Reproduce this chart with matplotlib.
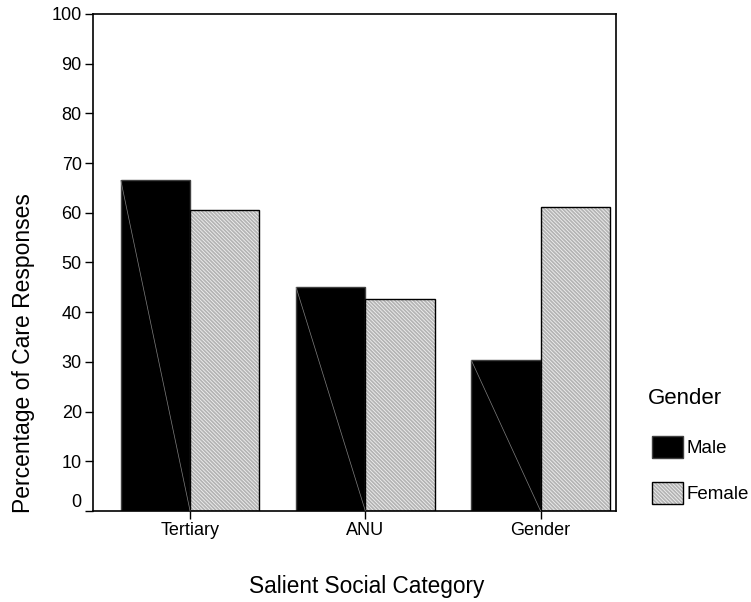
import matplotlib
matplotlib.use("Agg")
import matplotlib.pyplot as plt
import numpy as np
from matplotlib.patches import Patch
from matplotlib.legend_handler import HandlerTuple
from matplotlib.transforms import ScaledTranslation

categories = ["Tertiary", "ANU", "Gender"]
male = [66.5, 45.0, 30.3]
female = [60.6, 42.7, 61.2]
series_labels = ["Male", "Female"]
yticks = [0, 10, 20, 30, 40, 50, 60, 70, 80, 90, 100]

plt.rcParams['font.family'] = ['Liberation Sans', 'DejaVu Sans']
plt.rcParams['hatch.linewidth'] = 0.6

W, H = 751, 602
fig = plt.figure(figsize=(7.51, 6.02), dpi=100)
ax = fig.add_axes([0.1238, 0.1512, 0.6964, 0.8256])

x = np.arange(len(categories))
w = 0.395
grey = '#b4b4b4'
hatch = '\\' * 9

mbars = ax.bar(x - w / 2, male, w, color='black', edgecolor='#404040', linewidth=1.0, zorder=2)
fbars = ax.bar(x + w / 2, female, w, color=grey, edgecolor='#f0f0f0', hatch=hatch, linewidth=0, zorder=2)
ax.bar(x + w / 2, female, w, fill=False, edgecolor='black', linewidth=1.0, zorder=3)

# thin diagonal artifact line in male bars
for b in mbars:
    x0 = b.get_x()
    ax.plot([x0, x0 + b.get_width()], [b.get_height(), 0], color='#808080', lw=0.5, zorder=3)

ax.set_xlim(-0.554, 2.43)
ax.set_ylim(0, 100)
ax.set_yticks(yticks)
ax.set_yticklabels([str(t) for t in yticks], fontsize=13)
ax.set_xticks(x)
ax.set_xticklabels(categories, fontsize=13)
ax.tick_params(axis='both', direction='out', length=6, width=1, color='black', pad=2)
for s in ax.spines.values():
    s.set_linewidth(1.2)

# SPSS-style raised zero label
lbl0 = ax.get_yticklabels()[0]
lbl0.set_transform(lbl0.get_transform() + ScaledTranslation(0, 10 / 100, fig.dpi_scale_trans))

ax.set_ylabel("Percentage of Care Responses", fontsize=16.5, va='center')
ax.yaxis.set_label_coords(24 / W, 1 - 353 / H, transform=fig.transFigure)
ax.set_xlabel("Salient Social Category", fontsize=16.3, va='center')
ax.xaxis.set_label_coords(367 / W, 1 - 587 / H, transform=fig.transFigure)

fig.text(648 / W, 1 - 398 / H, "Gender", fontsize=16, va='center', ha='left')

h_male = Patch(facecolor='black', edgecolor='#404040', linewidth=1.0)
h_fem = Patch(facecolor=grey, edgecolor='#f0f0f0', hatch=hatch, linewidth=0)
h_fem_o = Patch(fill=False, edgecolor='black', linewidth=1.0)
leg = fig.legend([h_male, (h_fem, h_fem_o)], series_labels,
                 handler_map={tuple: HandlerTuple(ndivide=1, pad=0)},
                 fontsize=13.5,
                 loc='upper left', bbox_to_anchor=(652 / W, 1 - 436 / H),
                 frameon=False, handlelength=1.65, handleheight=1.45,
                 labelspacing=1.25, handletextpad=0.2, borderaxespad=0,
                 borderpad=0)

fig.savefig("out.png", dpi=100)
